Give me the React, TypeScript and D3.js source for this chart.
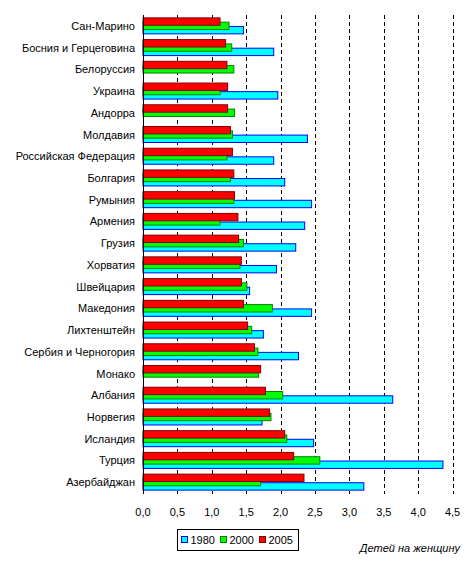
import React from "react";
import * as d3 from "d3";

const countries = [
  "Сан-Марино", "Босния и Герцеговина", "Белоруссия", "Украина", "Андорра",
  "Молдавия", "Российская Федерация", "Болгария", "Румыния", "Армения",
  "Грузия", "Хорватия", "Швейцария", "Македония", "Лихтенштейн",
  "Сербия и Черногория", "Монако", "Албания", "Норвегия", "Исландия",
  "Турция", "Азербайджан",
];
const v1980: (number | null)[] = [
  1.46, 1.90, null, 1.96, null, 2.39, 1.90, 2.06, 2.45, 2.35,
  2.22, 1.94, 1.55, 2.45, 1.75, 2.26, null, 3.63, 1.73, 2.48, 4.36, 3.21,
];
const v2000: (number | null)[] = [
  1.25, 1.29, 1.32, 1.12, 1.33, 1.30, 1.22, 1.27, 1.32, 1.12,
  1.46, 1.41, 1.51, 1.88, 1.58, 1.67, 1.68, 2.03, 1.86, 2.09, 2.57, 1.71,
];
const v2005: (number | null)[] = [
  1.12, 1.20, 1.22, 1.23, 1.23, 1.27, 1.30, 1.32, 1.33, 1.38,
  1.39, 1.43, 1.43, 1.46, 1.52, 1.62, 1.71, 1.78, 1.84, 2.06, 2.19, 2.34,
];
const seriesNames = ["1980", "2000", "2005"];
const xTicks = [0, 0.5, 1, 1.5, 2, 2.5, 3, 3.5, 4, 4.5];
const axisTitle = "Детей на женщину";

const fills = ["#00FFFF", "#00FF00", "#FF0000"];
const strokes = ["#0000FF", "#008000", "#800000"];

export default function App() {
  const W = 476, H = 564;
  const x = d3.scaleLinear().domain([0, 4.5]).range([143, 452.6]);
  const y = d3.scaleBand<string>().domain(countries).range([15, 493]).padding(0);
  const bw = y.bandwidth();
  const h = 7.4;
  const step = 4.3;
  const offsets = [0.6, -3.7, -8]; // cyan, green, red relative to center
  const series = [v1980, v2000, v2005];
  const fmt = (t: number) => t.toFixed(1).replace(".", ",");
  const font = "'Liberation Sans', Arial, sans-serif";

  return (
    <div style={{ position: "absolute", left: 0, top: 0 }}>
      <svg width={W} height={H} style={{ display: "block" }} fontFamily={font}>
        <rect x={0} y={0} width={W} height={H} fill="#fff" />
        {xTicks.slice(1).map((t) => (
          <line key={"g" + t} x1={Math.round(x(t)) + 0.5} x2={Math.round(x(t)) + 0.5}
            y1={15} y2={494} stroke="#000" strokeWidth={1} strokeDasharray="4,3" />
        ))}
        {series.map((vals, si) =>
          vals.map((v, i) =>
            v == null ? null : (
              <rect key={si + "-" + i}
                x={x(0)} y={(y(countries[i]) as number) + bw / 2 + offsets[si]}
                width={x(v) - x(0)} height={h}
                fill={fills[si]} stroke={strokes[si]} strokeWidth={1} />
            )
          )
        )}
        <line x1={143.5} x2={143.5} y1={15} y2={494} stroke="#000" strokeWidth={1} />
        {countries.map((c) => (
          <text key={c} x={135} y={(y(c) as number) + bw / 2 + 4} textAnchor="end"
            fontSize={11} fill="#000">{c}</text>
        ))}
        {xTicks.map((t) => (
          <text key={"t" + t} x={x(t)} y={516} textAnchor="middle" fontSize={11} fill="#000">{fmt(t)}</text>
        ))}
        <rect x={177.5} y={529.5} width={121} height={21} fill="#fff" stroke="#000" strokeWidth={1} />
        {seriesNames.map((s, i) => {
          const lx = [181.5, 220.5, 259.5][i];
          return (
            <g key={s}>
              <rect x={lx} y={536.5} width={6} height={6} fill={fills[i]} stroke={strokes[i]} strokeWidth={1} />
              <text x={lx + 9} y={543.5} fontSize={11} fill="#000">{s}</text>
            </g>
          );
        })}
        <text x={460} y={552} textAnchor="end" fontSize={11} fontStyle="italic" fill="#000">{axisTitle}</text>
      </svg>
    </div>
  );
}
